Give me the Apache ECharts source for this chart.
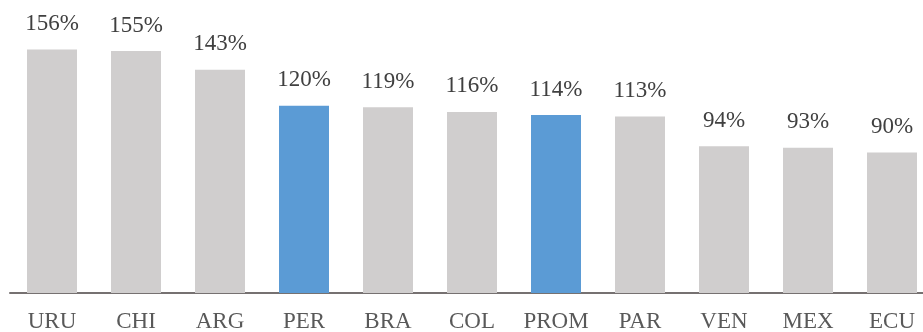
<!DOCTYPE html>
<html>
<head>
<meta charset="utf-8">
<script src="https://cdn.jsdelivr.net/npm/echarts@6/dist/echarts.min.js"></script>
<style>
  html, body { margin: 0; padding: 0; background: #fff; }
  #chart { width: 923px; height: 332px; }
</style>
</head>
<body>
<div id="chart"></div>
<script>
"use strict";

// countries, ratio in percent
const countries = ["URU", "CHI", "ARG", "PER", "BRA", "COL", "PROM", "PAR", "VEN", "MEX", "ECU"];
const ratios = [156, 155, 143, 120, 119, 116, 114, 113, 94, 93, 90];
const highlighted = ["PER", "PROM"];

const GREY = "#D0CECE";
const BLUE = "#5B9BD5";
const FONT = "'Liberation Serif', 'Times New Roman', serif";

const chart = echarts.init(document.getElementById("chart"));

const option = {
  animation: false,
  grid: {
    left: 10, width: 924, top: 12, bottom: 39,
    containLabel: false, outerBoundsMode: "none"
  },
  xAxis: {
    type: "category",
    data: countries,
    axisLine: { lineStyle: { color: "#767171", width: 2 } },
    axisTick: { show: false },
    axisLabel: {
      interval: 0, color: "#595959", fontFamily: FONT, fontSize: 23, margin: 17
    }
  },
  yAxis: {
    type: "value",
    min: 0,
    max: 180,
    show: false,
    splitLine: { show: false }
  },
  series: [{
    type: "bar",
    barWidth: 50,
    data: ratios.map((v, i) => ({
      value: v,
      itemStyle: { color: highlighted.includes(countries[i]) ? BLUE : GREY }
    })),
    label: {
      show: true,
      position: "top",
      distance: 14,
      formatter: "{c}%",
      color: "#404040",
      fontFamily: FONT,
      fontSize: 23
    }
  }]
};

chart.setOption(option);
</script>
</body>
</html>
